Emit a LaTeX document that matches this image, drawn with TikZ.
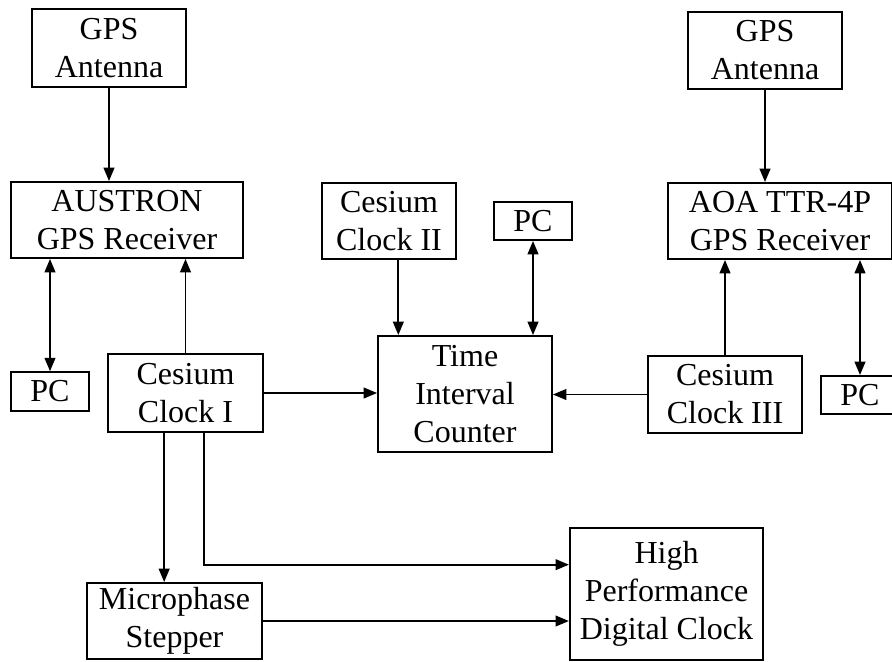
\documentclass[tikz,border=0pt]{standalone}
\usepackage{fontspec}
\setmainfont{Liberation Serif}
\usetikzlibrary{arrows.meta,calc}

\begin{document}
\begin{tikzpicture}[x=0.75pt,y=-0.75pt,
    box/.style={draw,line width=1.4pt,inner sep=0pt,align=center,
      font=\fontsize{24}{28.5}\selectfont},
    sig/.style={line width=1.4pt,-{Triangle[length=10pt,width=8pt]}},
    dsig/.style={line width=1.4pt,{Triangle[length=10pt,width=8pt]}-{Triangle[length=10pt,width=8pt]}}]
  \clip (0,0) rectangle (892,661);
  \node[box,minimum width=115.5pt,minimum height=58.5pt] (antL) at (109,48) {GPS\\Antenna};
  \node[box,minimum width=174pt,minimum height=57pt] (austron) at (127,220) {AUSTRON\\GPS Receiver};
  \node[box,minimum width=58.5pt,minimum height=29pt] (pcL) at (50,391.5) {PC};
  \node[box,minimum width=116pt,minimum height=58.5pt] (cs1) at (185.5,393) {Cesium\\Clock I};
  \node[box,minimum width=100.5pt,minimum height=57pt] (cs2) at (389,221) {Cesium\\Clock II};
  \node[box,minimum width=58.5pt,minimum height=28.5pt] (pcM) at (533,221) {PC};
  \node[box,minimum width=130.5pt,minimum height=87pt] (tic) at (465,394) {Time\\Interval\\Counter};
  \node[box,minimum width=115.5pt,minimum height=57.75pt] (antR) at (765,50.5) {GPS\\Antenna};
  \node[box,minimum width=168pt,minimum height=57pt] (aoa) at (780,221) {AOA TTR-4P\\GPS Receiver};
  \node[box,minimum width=115.5pt,minimum height=57.75pt] (cs3) at (725,394.5) {Cesium\\Clock III};
  \node[box,minimum width=58.5pt,minimum height=28.5pt] (pcR) at (860,395) {PC};
  \node[box,minimum width=131pt,minimum height=57pt] (stepper) at (174.5,621) {Microphase\\Stepper};
  \node[box,minimum width=145pt,minimum height=99pt] (hpdc) at (666.5,594) {High\\Performance\\Digital Clock};

  \draw[sig] (antL) -- (antL |- austron.north);
  \draw[sig] (antR) -- (antR |- aoa.north);
  \draw[dsig] (pcL.north) -- (pcL.north |- austron.south);
  \draw[sig] (cs1.north) -- (cs1.north |- austron.south);
  \draw[sig] (cs1.east) -- (tic.west |- cs1.east);
  \draw[sig] ([xshift=7pt]cs2.south) -- ([xshift=7pt]cs2.south |- tic.north);
  \draw[dsig] (pcM.south) -- (pcM.south |- tic.north);
  \draw[sig] (cs3.north) -- (cs3.north |- aoa.south);
  \draw[dsig] (pcR.north) -- (pcR.north |- aoa.south);
  \draw[sig] (cs3.west) -- (tic.east |- cs3.west);
  \draw[sig] ([xshift=-16pt]cs1.south) -- ([xshift=-16pt]cs1.south |- stepper.north);
  \draw[sig] ([xshift=14pt]cs1.south) |- ([yshift=22pt]hpdc.west);
  \draw[sig] (stepper.east) -- (stepper.east -| hpdc.west);
\end{tikzpicture}
\end{document}
